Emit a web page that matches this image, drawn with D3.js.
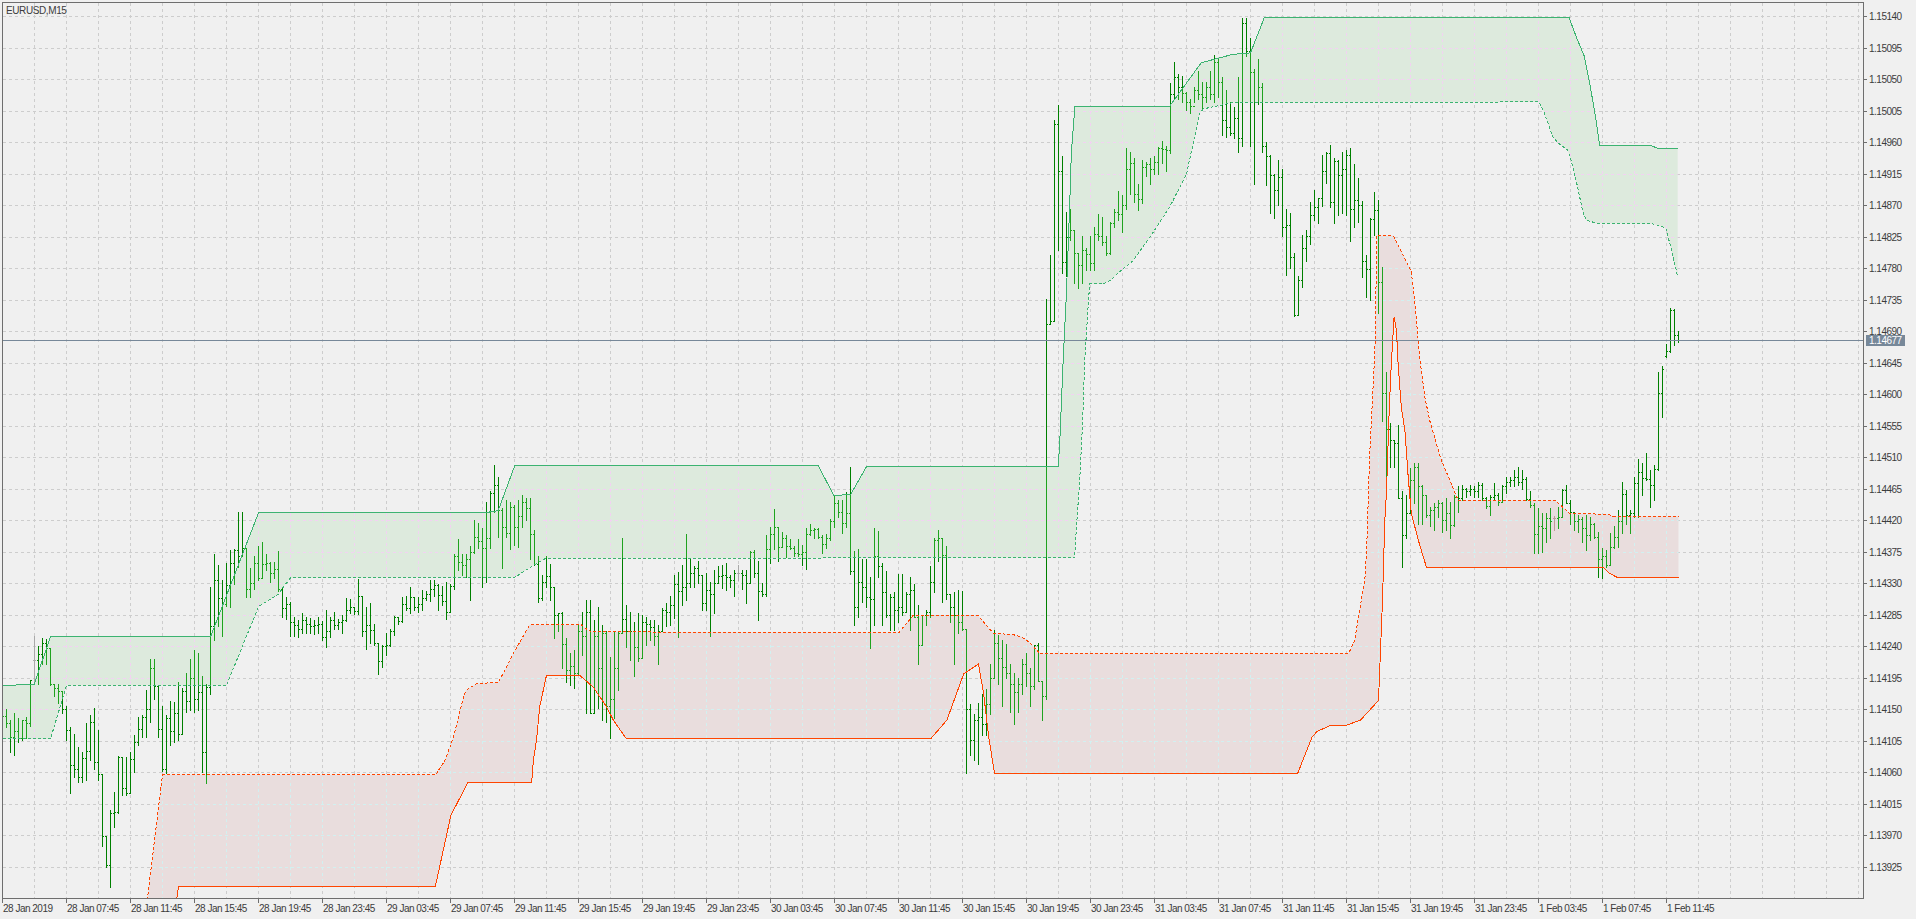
<!DOCTYPE html>
<html><head><meta charset="utf-8">
<script src="https://cdnjs.cloudflare.com/ajax/libs/d3/7.8.5/d3.min.js"></script>
<style>html,body{margin:0;padding:0;background:#f0f0f0;overflow:hidden}svg{display:block}</style>
</head><body><svg id="c" width="1916" height="919"></svg>
<script>
// ---------- DATA (prices in points above 1.14000, 1 point = 0.00001) ----------
const symbolLabel = "EURUSD,M15";
const barOpen = [
142,140,130,110,118,108,135,130,220,220, 229,244,237,186,180,176,150,120,70,65,
53,80,90,131,75,57,-31,-73,2,3, 82,37,30,78,103,122,139,150,208,183,
122,64,137,118,144,114,176,162,194,164, 175,88,181,268,335,308,300,327,358,377,
368,380,321,330,358,337,357,358,344,350, 322,294,300,275,270,265,277,272,268,270,
272,253,262,277,270,274,277,291,296,290, 311,261,270,263,245,218,240,241,261,282,
276,300,294,310,296,300,308,315,322,327, 313,305,289,326,369,360,356,365,375,396,
390,380,395,458,470,434,410,401,439,410, 426,446,437,400,357,308,331,340,325,285,
287,243,206,212,201,261,254,289,145,254, 208,258,154,165,208,259,278,261,262,239,
223,275,272,267,254,262,292,289,299,329, 318,325,330,344,351,342,301,320,315,330,
340,342,339,334,345,345,342,330,375,345, 318,314,378,400,410,382,394,383,380,373,
372,375,400,406,407,396,386,394,419,444, 432,416,430,347,296,332,325,310,307,368,
354,317,285,310,292,296,288,314,320,281, 241,285,288,332,392,394,370,314,296,285,
275,265,150,106,135,139,128,157,194,245, 223,210,201,186,175,186,215,201,183,241,
190,168,700,704,986,919,788,825,835,802, 784,806,800,787,829,826,817,802,844,860,
857,870,922,930,886,879,924,928,922,931, 951,950,948,1028,1053,1039,1030,1017,1012,1035,
1028,1024,1039,1028,1075,1046,992,981,973,995, 966,1130,1090,1060,1017,1039,954,940,913,891,
910,838,841,796,713,763,808,826,856,867, 880,918,944,875,933,913,922,941,864,877,
870,790,779,850,863,760,601,550,534,530, 451,399,430,477,496,468,456,427,434,439,
444,420,430,413,453,452,465,461,464,461, 470,452,440,453,456,446,468,474,477,482,
475,478,450,442,400,411,408,423,423,423, 425,463,444,432,418,422,408,399,415,396,
365,368,356,382,396,418,457,427,430,473, 489,480,478,470,493,601,655,662,720,684
];
const barHigh = [
148,150,135,144,137,135,138,191,254,240, 252,250,237,186,186,176,155,125,114,96,
89,130,141,151,120,57,-31,6,31,83, 82,82,88,113,138,141,177,221,221,183,
154,141,162,160,188,180,202,221,234,230, 197,186,324,371,356,335,358,377,378,431,
431,380,352,368,383,388,372,360,360,376, 324,310,303,282,277,287,281,280,277,281,
276,291,281,289,278,284,308,307,296,336, 311,296,301,271,245,241,258,265,283,282,
310,311,324,310,310,320,318,335,334,329, 326,331,329,372,393,372,372,383,420,416,
408,446,461,499,482,437,449,446,442,449, 456,451,451,406,368,342,368,357,325,287,
288,251,230,235,270,289,306,306,277,296, 270,261,225,261,261,394,299,289,275,287,
284,282,277,277,270,294,301,311,342,346, 356,400,365,354,362,342,344,332,348,354,
356,358,342,349,356,349,349,376,377,361, 330,399,410,436,410,403,399,393,383,393,
384,408,415,409,408,399,400,421,456,449, 449,460,496,376,379,365,365,339,409,405,
358,347,314,317,343,343,317,339,328,299, 285,292,354,394,406,394,383,314,317,320,
319,265,157,143,159,172,179,215,263,256, 248,243,215,201,194,221,230,208,241,245,
190,736,798,992,1013,940,860,864,835,802, 826,809,826,839,857,853,826,846,864,890,
884,951,946,937,900,935,931,937,940,953, 962,955,1045,1075,1057,1055,1032,1021,1039,1061,
1046,1046,1061,1084,1079,1053,1035,1017,1010,1053, 1137,1137,1108,1065,1079,1045,960,942,915,935,
921,865,858,802,769,827,835,875,891,880, 941,946,956,937,935,946,948,951,929,908,
876,799,851,889,877,782,632,558,534,556, 461,456,494,501,501,470,456,439,444,449,
446,451,446,456,468,470,466,470,468,475, 473,453,456,473,458,470,482,482,491,496,
491,482,461,444,437,430,430,437,426,439, 465,470,449,432,427,425,427,425,416,403,
380,377,401,411,434,475,463,434,482,507, 502,516,492,499,632,640,672,723,722,690
];
const barLow = [
128,124,88,84,103,106,108,126,186,186, 215,215,184,169,159,144,106,30,53,46,
46,49,77,65,48,-45,-75,-104,-18,1, 27,27,30,60,99,110,110,132,164,110,
62,58,99,103,106,114,146,149,146,149, 60,45,172,249,268,255,297,296,329,353,
368,310,310,321,335,339,348,332,337,318, 281,279,255,255,253,258,259,258,257,258,
249,238,253,264,265,258,276,287,286,286, 255,236,244,241,200,210,227,240,256,271,
275,291,287,291,289,291,306,305,311,291, 299,278,289,321,349,341,338,306,373,380,
325,331,380,432,396,351,396,378,384,381, 410,420,364,356,303,306,325,306,251,261,
208,188,185,180,199,227,144,144,145,151, 135,132,108,137,177,258,239,220,197,218,
223,242,249,242,215,262,268,270,280,253, 299,306,325,325,330,291,292,254,287,330,
323,320,324,312,335,321,302,330,339,277, 312,311,358,378,362,382,367,378,368,369,
356,350,399,395,394,373,380,392,410,425, 401,410,343,270,281,303,296,237,270,339,
270,281,263,263,274,285,288,263,281,215, 241,270,281,317,361,303,307,274,215,259,
263,59,84,77,71,113,113,143,194,186, 154,194,146,128,146,172,183,154,179,190,
135,164,700,704,806,773,769,820,758,751, 758,777,777,777,820,813,798,800,838,849,
831,865,886,875,863,873,911,900,915,915, 930,919,944,1021,1021,1017,1006,1002,1017,1021,
1006,1017,1021,1017,1024,970,967,970,966,946, 955,1083,955,900,1015,946,899,858,851,870,
826,770,780,711,713,753,790,815,849,844, 868,902,867,845,856,858,856,818,838,846,
767,739,735,827,716,561,461,496,496,451, 353,394,430,444,415,415,425,411,406,425,
403,406,395,411,432,449,453,456,453,453, 449,437,427,449,442,446,458,468,468,470,
465,449,439,373,373,375,389,395,406,408, 425,444,415,406,403,389,377,392,394,339,
337,353,356,380,382,401,415,401,425,425, 456,477,439,449,492,567,653,660,670,675
];
const barClose = [
140,130,110,118,108,135,130,191,220,229, 244,237,186,180,176,150,120,70,65,53,
80,90,131,75,57,-31,-73,2,3,82, 37,30,78,103,122,139,150,208,183,122,
64,137,118,144,114,176,162,194,164,175, 88,181,268,335,308,300,327,358,377,368,
380,321,330,358,337,357,358,344,350,322, 294,300,275,270,265,277,272,268,270,272,
253,262,277,270,274,277,291,296,290,311, 261,270,263,245,218,240,241,261,282,276,
300,294,310,296,300,308,315,322,327,313, 305,289,326,369,360,356,365,375,396,390,
380,395,458,470,434,410,401,439,410,426, 446,437,400,357,308,331,340,325,285,287,
243,206,212,201,261,254,289,145,254,208, 258,154,165,208,259,278,261,262,239,223,
275,272,267,254,262,292,289,299,329,318, 325,330,344,351,342,301,320,315,330,340,
342,339,334,345,345,342,330,375,345,318, 314,378,400,410,382,394,383,380,373,372,
375,400,406,407,396,386,394,419,444,432, 416,430,347,296,332,325,310,307,368,354,
317,285,310,292,296,288,314,320,281,241, 285,288,332,392,394,370,314,296,285,275,
265,150,106,135,139,128,157,194,245,223, 210,201,186,175,186,215,201,183,241,190,
168,700,704,986,919,788,825,835,802,784, 806,800,787,829,826,817,802,844,860,857,
870,922,930,886,879,924,928,922,931,951, 950,948,1028,1053,1039,1030,1017,1012,1035,1028,
1024,1039,1028,1075,1046,992,981,973,995,966, 1130,1090,1060,1017,1039,954,940,913,891,910,
838,841,796,713,763,808,826,856,867,880, 918,944,875,933,913,922,941,864,877,870,
790,779,850,863,760,601,550,534,530,451, 399,430,477,496,468,456,427,434,439,444,
420,430,413,453,452,465,461,464,461,470, 452,440,453,456,446,468,474,477,482,475,
478,450,442,400,411,408,423,418,423,425, 463,444,432,418,422,408,399,415,396,365,
368,356,382,396,418,457,427,430,473,489, 480,478,470,493,601,636,662,720,684,677
];
// band key points: [bar index, points]
const greenUpperSolid = [[0,184.5],[3.3,184.5],[3.4,186],[7.9,186],[12,254],[52,254],[64,431],[120.3,431],[123.9,434],[128.1,499],[203.9,499],[207.8,456],[212,457],[216,497],[263.9,497],[264.3,529],[265.2,653],[266,747],[266.8,871],[267.2,944],[268.1,1012],[291.8,1012],[299.7,1074],[307.6,1086],[312,1088],[315.5,1139],[391.6,1139],[393.5,1110],[395.4,1084],[396.8,1044],[398,1006],[399.3,956],[411.8,956],[414.3,951],[418.8,951]];
const greenLowerDashed = [[0,108],[12,108],[16,184.5],[56,184.5],[64,297],[69,315],[70.2,325],[72,338],[128.1,339],[132.7,356],[135.8,366],[268,367],[268.6,420],[269.3,478],[270,558],[270.6,653],[271.4,726],[271.8,758],[275.2,758],[276.9,763],[280.2,780],[282.6,791],[287.6,831],[291.8,868],[296,915],[299.3,1002],[300.2,1008],[307.6,1017],[384.1,1018],[385.2,1006],[387.6,968],[388.8,960],[391.3,949],[392.2,934],[393.8,896],[395,863],[395.9,849],[398.4,845],[412.5,844],[415.4,839],[415.9,836],[417.5,801],[418.8,768]];
const redUpperDashed = [[35,-300],[36.1,-126],[40,57],[108.3,57],[110.6,77],[112.7,110],[114.8,158],[115.8,177],[118.5,187],[123.9,189],[125.6,206],[127.7,230],[129.3,246],[131.8,271],[144.75,271],[146.4,263],[147.7,261],[224.1,260],[227.6,284],[243.9,284],[246,270],[247.7,259],[252.7,257],[254.7,254],[256.8,246],[259.3,230],[336.5,230],[338,248],[340.6,337],[341,373],[341.8,515],[343.1,663],[343.6,827],[347.7,827],[350.2,799],[352.2,775],[353.1,730],[354.3,653],[355.6,596],[356.8,563],[359.7,506],[362.2,473],[363.9,449],[388.1,449],[390.1,439],[391.8,430],[401.4,429],[402.6,426],[419,426]];
const redLowerSolid = [[35,-420],[43.4,-126],[44,-103],[108.2,-103],[112.1,-1],[116.3,45.5],[132.3,45.5],[132.7,77],[133.5,106],[134.3,154],[136,199],[144.3,199],[147.7,182],[151,154],[152.7,135],[156,108],[232,108],[236.1,135],[240.3,201],[244,215],[245.3,172],[246.5,113],[248,59],[323.8,59],[327.4,111],[328.7,119],[331.9,127],[335.7,127],[339.5,135],[344,163],[345,306],[345.6,423],[346,461],[346.7,582],[347.2,644],[347.9,711],[348.5,691],[348.9,644],[349.7,582],[350.6,549],[351.4,484],[352.2,430],[354.2,387],[356,353],[400.2,353],[401.4,346],[403.9,338],[419,338]];
const dateTickLabels = ["28 Jan 2019","28 Jan 07:45","28 Jan 11:45","28 Jan 15:45","28 Jan 19:45","28 Jan 23:45","29 Jan 03:45","29 Jan 07:45","29 Jan 11:45","29 Jan 15:45","29 Jan 19:45","29 Jan 23:45","30 Jan 03:45","30 Jan 07:45","30 Jan 11:45","30 Jan 15:45","30 Jan 19:45","30 Jan 23:45","31 Jan 03:45","31 Jan 07:45","31 Jan 11:45","31 Jan 15:45","31 Jan 19:45","31 Jan 23:45","1 Feb 03:45","1 Feb 07:45","1 Feb 11:45"];
const priceTickLabels = ["1.13925","1.13970","1.14015","1.14060","1.14105","1.14150","1.14195","1.14240","1.14285","1.14330","1.14375","1.14420","1.14465","1.14510","1.14555","1.14600","1.14645","1.14690","1.14735","1.14780","1.14825","1.14870","1.14915","1.14960","1.15005","1.15050","1.15095","1.15140"];
const lastPriceLabel = "1.14677";
const BASE = 1.14, POINT = 0.00001;

// ---------- DRAW ----------
const PL = 2, PT = 2, PR = 1863, PB = 898;
const C = {bg:"#f0f0f0", frame:"#6e6e6e", text:"#3c3c3c", grid:"#cdcdcd", gridG:"#f2d2f2", gridR:"#d2f0f0",
  bar:"#008000", barIn:"#1fa31f", doji:"#a9a9a9", fillG:"#ddeadd", fillR:"#e9dddd",
  lineG:"#3cb371", lineR:"#ff4500", last:"#778899"};
const FONT = "'Liberation Sans', Arial, sans-serif";
const toPrice = v => BASE + v * POINT;
const x = d3.scaleLinear().domain([0, 416]).range([2, 1666]);
const y = d3.scaleLinear().domain([1.13925, 1.15140]).range([866.6, 16]);
const row = p => Math.round(y(p));

const svg = d3.select("#c");
svg.append("rect").attr("width", 1916).attr("height", 919).attr("fill", C.bg);
const defs = svg.append("defs");
defs.append("clipPath").attr("id", "plot").append("rect")
  .attr("x", PL + 1).attr("y", PT + 1).attr("width", PR - PL - 1).attr("height", PB - PT - 1);

const lineGen = d3.line().x(d => x(d[0]) + 0.5).y(d => y(toPrice(d[1])) + 0.5);
const bandPath = (up, lo) => lineGen(up) + "L" + lineGen(lo.slice().reverse()).slice(1) + "Z";
const greenArea = bandPath(greenUpperSolid, greenLowerDashed);
const redArea = bandPath(redUpperDashed, redLowerSolid);
defs.append("clipPath").attr("id", "clipG").append("path").attr("d", greenArea);
defs.append("clipPath").attr("id", "clipR").append("path").attr("d", redArea);

const plot = svg.append("g").attr("clip-path", "url(#plot)");
plot.append("path").attr("d", greenArea).attr("fill", C.fillG);
plot.append("path").attr("d", redArea).attr("fill", C.fillR);

// grid
const vIdx = d3.range(8, 465, 8);
function drawGrid(parent, color) {
  const g = parent.append("g").attr("stroke", color).attr("stroke-width", 1)
    .attr("stroke-dasharray", "3,3").attr("shape-rendering", "crispEdges").attr("fill", "none");
  vIdx.forEach(i => { const xx = x(i) + 0.5; if (xx < PR) g.append("line").attr("x1", xx).attr("x2", xx).attr("y1", PT + 1).attr("y2", PB); });
  priceTickLabels.forEach(t => { const yy = row(+t) + 0.5; g.append("line").attr("x1", PL + 1).attr("x2", PR).attr("y1", yy).attr("y2", yy); });
  return g;
}
drawGrid(plot, C.grid);
drawGrid(plot.append("g").attr("clip-path", "url(#clipG)"), C.gridG);
drawGrid(plot.append("g").attr("clip-path", "url(#clipR)"), C.gridR);

// OHLC bars
function drawBars(parent, color, dojiColor) {
  let dn = "", dd = "";
  barHigh.forEach((h, i) => {
    const xc = x(i) + 0.5;
    const yh = row(toPrice(h)), yl = row(toPrice(barLow[i]));
    const yo = row(toPrice(barOpen[i])) + 0.5, yc = row(toPrice(barClose[i])) + 0.5;
    const s = `M${xc},${yh}V${yl + 1}M${xc - 1.5},${yo}H${xc}M${xc},${yc}H${xc + 1.5}`;
    if (barOpen[i] === barClose[i]) dd += s; else dn += s;
  });
  const g = parent.append("g").attr("fill", "none").attr("stroke-width", 1).attr("shape-rendering", "crispEdges");
  g.append("path").attr("d", dn).attr("stroke", color);
  g.append("path").attr("d", dd).attr("stroke", dojiColor);
}
drawBars(plot, C.bar, C.doji);
drawBars(plot.append("g").attr("clip-path", "url(#clipG)"), C.barIn, C.doji);
drawBars(plot.append("g").attr("clip-path", "url(#clipR)"), C.barIn, "#c09a9a");

// band lines
const lg = plot.append("g").attr("fill", "none").attr("stroke-width", 1).attr("shape-rendering", "crispEdges");
lg.append("path").attr("d", lineGen(greenUpperSolid)).attr("stroke", C.lineG);
lg.append("path").attr("d", lineGen(greenLowerDashed)).attr("stroke", C.lineG).attr("stroke-dasharray", "3,2");
lg.append("path").attr("d", lineGen(redUpperDashed)).attr("stroke", C.lineR).attr("stroke-dasharray", "3,2");
lg.append("path").attr("d", lineGen(redLowerSolid)).attr("stroke", C.lineR);

// last price line
const lastRow = row(+lastPriceLabel);
plot.append("line").attr("x1", PL).attr("x2", PR).attr("y1", lastRow + 0.5).attr("y2", lastRow + 0.5)
  .attr("stroke", C.last).attr("shape-rendering", "crispEdges");

// frame
const fr = svg.append("g").attr("stroke", C.frame).attr("shape-rendering", "crispEdges").attr("fill", "none");
fr.append("rect").attr("x", PL + 0.5).attr("y", PT + 0.5).attr("width", PR - PL).attr("height", PB - PT);

// price axis
const pa = svg.append("g");
priceTickLabels.forEach(t => {
  const r = row(+t);
  pa.append("line").attr("x1", PR).attr("x2", PR + 4).attr("y1", r + 0.5).attr("y2", r + 0.5)
    .attr("stroke", C.frame).attr("shape-rendering", "crispEdges");
  pa.append("text").attr("x", 1869).attr("y", r + 4).text(t)
    .attr("font-family", FONT).attr("font-size", "10px").attr("letter-spacing", "-0.5px").attr("fill", C.text);
});
pa.append("rect").attr("x", 1866).attr("y", lastRow - 5).attr("width", 39).attr("height", 11).attr("fill", C.last);
pa.append("text").attr("x", 1869).attr("y", lastRow + 4).text(lastPriceLabel)
  .attr("font-family", FONT).attr("font-size", "10px").attr("letter-spacing", "-0.5px").attr("fill", "#ffffff");

// time axis
const ta = svg.append("g");
dateTickLabels.forEach((t, k) => {
  const xx = x(k * 16);
  ta.append("line").attr("x1", xx + 0.5).attr("x2", xx + 0.5).attr("y1", PB).attr("y2", PB + 5)
    .attr("stroke", C.frame).attr("shape-rendering", "crispEdges");
  ta.append("text").attr("x", xx + 1).attr("y", 912).text(t)
    .attr("font-family", FONT).attr("font-size", "10px").attr("letter-spacing", "-0.5px").attr("fill", C.text);
});

// symbol label
svg.append("text").attr("x", 6).attr("y", 14).text(symbolLabel)
  .attr("font-family", FONT).attr("font-size", "10px").attr("letter-spacing", "-0.4px").attr("fill", C.text);
</script></body></html>
